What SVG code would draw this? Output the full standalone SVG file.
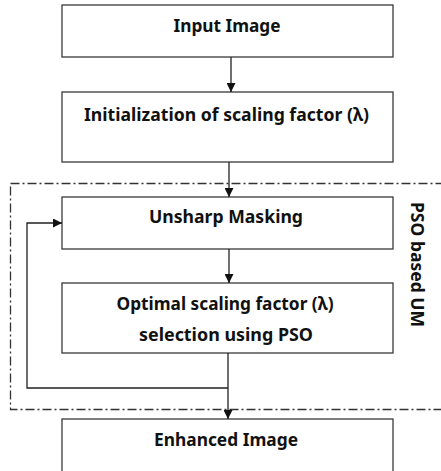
<svg xmlns="http://www.w3.org/2000/svg" width="441" height="471" viewBox="0 0 441 471">
  <style>
    .box { fill: #ffffff; stroke: #3a3a3a; stroke-width: 1.3; }
    .lbl { font-family: "Noto Sans", "Open Sans", sans-serif; font-weight: bold; font-size: 17px; fill: #111; text-anchor: middle; }
    .side { font-family: "Noto Sans", "Open Sans", sans-serif; font-weight: bold; font-size: 17px; fill: #111; }
    .edge { fill: none; stroke: #222; stroke-width: 1.3; }
    .frame { fill: none; stroke: #333; stroke-width: 1.3; stroke-dasharray: 9 3 2 3; }
  </style>
  <defs>
    <marker id="arrow" viewBox="0 0 10 10" refX="10" refY="5" markerWidth="9" markerHeight="9" markerUnits="userSpaceOnUse" orient="auto">
      <path d="M0,0 L10,5 L0,10 Z" fill="#111"/>
    </marker>
  </defs>

  <rect width="441" height="471" fill="#ffffff"/>

  <!-- PSO based UM frame -->
  <g id="pso-frame">
    <rect class="frame" x="10.5" y="183.5" width="460" height="226"/>
    <text class="side" transform="translate(411,202) rotate(90)" x="0" y="0" textLength="125" lengthAdjust="spacingAndGlyphs">PSO based UM</text>
  </g>

  <g id="input-image">
    <rect class="box" x="62" y="5" width="331" height="52"/>
    <text class="lbl" x="227" y="32" textLength="107" lengthAdjust="spacingAndGlyphs">Input Image</text>
  </g>

  <g id="init-lambda">
    <rect class="box" x="62" y="92" width="331" height="70"/>
    <text class="lbl" x="226.5" y="121" textLength="285" lengthAdjust="spacingAndGlyphs">Initialization of scaling factor (λ)</text>
  </g>

  <g id="unsharp-masking">
    <rect class="box" x="62" y="197" width="331" height="52"/>
    <text class="lbl" x="226" y="223" textLength="154" lengthAdjust="spacingAndGlyphs">Unsharp Masking</text>
  </g>

  <g id="optimal-lambda">
    <rect class="box" x="62" y="283" width="331" height="70"/>
    <text class="lbl" x="225" y="310" textLength="217" lengthAdjust="spacingAndGlyphs">Optimal scaling factor (λ)</text>
    <text class="lbl" x="226" y="341" textLength="174" lengthAdjust="spacingAndGlyphs">selection using PSO</text>
  </g>

  <g id="enhanced-image">
    <rect class="box" x="62" y="419" width="331" height="70"/>
    <text class="lbl" x="226" y="446" textLength="144" lengthAdjust="spacingAndGlyphs">Enhanced Image</text>
  </g>

  <g id="connectors">
    <path class="edge" d="M231,57 V92" marker-end="url(#arrow)"/>
    <path class="edge" d="M229,162 V197" marker-end="url(#arrow)"/>
    <path class="edge" d="M229,249 V283" marker-end="url(#arrow)"/>
    <path class="edge" d="M228,353 V419" marker-end="url(#arrow)"/>
    <path class="edge" d="M228,388 H27 V223 H62" marker-end="url(#arrow)"/>
  </g>
</svg>
